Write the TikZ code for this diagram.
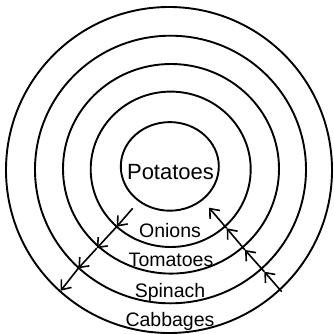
\documentclass[tikz,border=0pt]{standalone}
\usepackage{fontspec}
\setmainfont{Liberation Sans}
\usetikzlibrary{arrows.meta}
\begin{document}
\begin{tikzpicture}[x=1pt,y=-1pt,
  ring/.style={line width=1.9pt},
  conn/.style={line width=1.6pt,-{Straight Barb[length=8pt,width=13pt,line width=1.6pt]}},
  lbl/.style={inner sep=0pt,anchor=base,font=\fontsize{19.5}{22}\selectfont},
  biglbl/.style={lbl,font=\fontsize{22}{24}\selectfont}
]
\useasboundingbox (0,0) rectangle (333,334);
% rings
\draw[ring] (169,170) ellipse [x radius=163, y radius=163];
\draw[ring] (170.5,169.5) ellipse [x radius=135.5, y radius=133.8];
\draw[ring] (171,168.8) ellipse [x radius=108, y radius=104.8];
\draw[ring] (170.7,169.3) ellipse [x radius=80, y radius=77.7];
\draw[ring] (169.8,166.4) ellipse [x radius=49, y radius=44.3];
% labels
\node[biglbl] (potatoes) at (170.5,179) {Potatoes};
\node[lbl] (onions) at (170,237) {Onions};
\node[lbl] (tomatoes) at (171,266.7) {Tomatoes};
\node[lbl] (spinach) at (170,297) {Spinach};
\node[lbl] (cabbages) at (170,326.5) {Cabbages};
% left chain (outward)
\coordinate (L0) at (132.7,208.3);
\coordinate (L1) at (116.7,226.7);
\coordinate (L2) at (96.7,248.3);
\coordinate (L3) at (78.3,268.3);
\coordinate (L4) at (60.7,290.7);
\draw[conn] (L0) -- (L1);
\draw[conn] (L1) -- (L2);
\draw[conn] (L2) -- (L3);
\draw[conn] (L3) -- (L4);
% right chain (inward)
\coordinate (R0) at (209,207.7);
\coordinate (R1) at (226.7,228.3);
\coordinate (R2) at (245,250);
\coordinate (R3) at (264.3,271.7);
\coordinate (R4) at (281.7,291.7);
\draw[conn] (R1) -- (R0);
\draw[conn] (R2) -- (R1);
\draw[conn] (R3) -- (R2);
\draw[conn] (R4) -- (R3);
\end{tikzpicture}
\end{document}
